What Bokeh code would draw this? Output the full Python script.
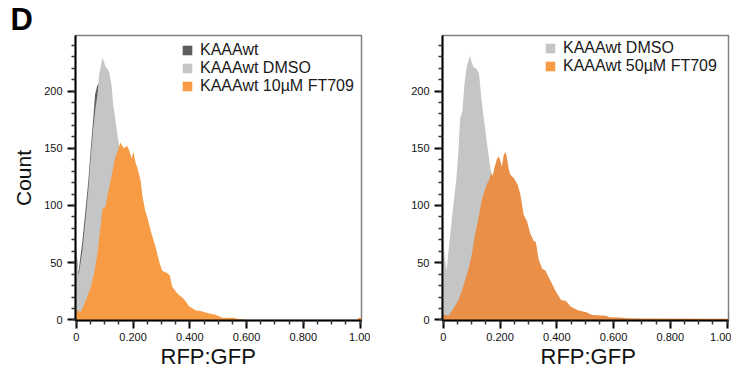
from bokeh.plotting import figure
from bokeh.layouts import row
from bokeh.models import Range1d, FixedTicker, Legend, LegendItem, Title
from bokeh.embed import file_html
from bokeh.resources import INLINE

# ---------------- data ----------------
x_ticks = [0, 0.2, 0.4, 0.6, 0.8, 1.0]
x_tick_labels = ["0", "0.200", "0.400", "0.600", "0.800", "1.00"]
x_minor_ticks = [0.0, 0.05, 0.1, 0.15, 0.2, 0.25, 0.3, 0.35, 0.4, 0.45, 0.5,
                 0.55, 0.6, 0.65, 0.7, 0.75, 0.8, 0.85, 0.9, 0.95, 1.0]
y_ticks = [0, 50, 100, 150, 200]
y_tick_labels = ["0", "50", "100", "150", "200"]
y_minor_ticks = [0, 10, 20, 30, 40, 50, 60, 70, 80, 90, 100, 110, 120, 130,
                 140, 150, 160, 170, 180, 190, 200, 210, 220, 230, 240]

# Left panel
kaaawt_x = [0, 0.007, 0.02, 0.033, 0.042, 0.05, 0.059, 0.066, 0.074, 0.085,
            0.1, 0.12, 0.14, 0.17, 0.2, 0.25, 0.3, 0.4, 0.5, 0.6]
kaaawt_y = [62, 41, 66, 98, 121, 147, 174, 197, 205, 208,
            200, 180, 150, 110, 80, 45, 22, 6, 1, 0]

dmso_l_x = [0, 0.008, 0.021, 0.033, 0.042, 0.05, 0.059, 0.067, 0.074, 0.08,
            0.092, 0.097, 0.103, 0.108, 0.115, 0.124, 0.13, 0.14, 0.15,
            0.17, 0.2, 0.25, 0.3, 0.35, 0.4, 0.5, 0.6]
dmso_l_y = [60, 39, 60, 90, 113, 140, 166, 185, 196, 214,
            229, 226, 221, 220, 217, 205, 188, 170, 153,
            128, 95, 55, 28, 14, 6, 1, 0]

ft10_x = [0, 0.015, 0.027, 0.039, 0.05, 0.062, 0.074, 0.086, 0.092, 0.103,
          0.109, 0.121, 0.137, 0.149, 0.155, 0.167, 0.179, 0.185, 0.195,
          0.201, 0.208, 0.215, 0.221, 0.227, 0.233, 0.243, 0.25, 0.262,
          0.28, 0.294, 0.303, 0.32, 0.329, 0.338, 0.356, 0.38, 0.397,
          0.42, 0.437, 0.456, 0.472, 0.491, 0.515, 0.555, 0.562, 0.597,
          0.99, 0.995, 1.005]
ft10_y = [9, 7, 13, 21, 28, 40, 57, 83, 97, 99,
          108, 122, 142, 150, 155, 150, 152, 149, 141,
          147, 138, 133, 127, 121, 108, 95, 90, 78,
          63, 49, 43, 41, 39, 29, 23, 18, 12,
          8.5, 7.7, 6.5, 5.4, 4.5, 2, 2, 1.3, 0,
          0, 2, 2]

# Right panel
dmso_r_x = [0, 0.005, 0.011, 0.025, 0.035, 0.046, 0.053, 0.059, 0.067, 0.074,
            0.082, 0.094, 0.1, 0.106, 0.118, 0.126, 0.133, 0.141, 0.153,
            0.165, 0.171, 0.19, 0.22, 0.25, 0.3, 0.35, 0.4, 0.5, 0.6]
dmso_r_y = [75, 55, 43, 76, 100, 124, 147, 176, 182, 205,
            221, 231, 225, 221, 219, 215, 196, 179, 156,
            133, 128, 105, 80, 58, 32, 16, 7, 2, 0]

ft50_x = [0, 0.018, 0.036, 0.053, 0.066, 0.077, 0.088, 0.1, 0.112, 0.124,
          0.136, 0.147, 0.156, 0.16, 0.168, 0.174, 0.18, 0.188, 0.194,
          0.2, 0.206, 0.213, 0.219, 0.224, 0.23, 0.236, 0.248, 0.262,
          0.272, 0.283, 0.295, 0.307, 0.319, 0.326, 0.336, 0.348, 0.36,
          0.378, 0.395, 0.415, 0.432, 0.45, 0.474, 0.504, 0.525, 0.575,
          0.585, 0.62, 0.65, 0.7, 1.005]
ft50_y = [5, 3.7, 10, 17.5, 26, 35, 44, 57, 75, 89,
          105, 114, 120, 121, 128, 126, 133, 140, 143,
          140, 134, 144, 147, 142, 132, 127, 124, 118,
          109, 92, 86, 75, 69, 68, 53, 45, 43,
          34, 25.5, 17.5, 16.5, 11.5, 8.5, 6.7, 4.3, 3.7,
          2.4, 2.2, 1.5, 1.2, 1]

labels_left = ["KAAAwt", "KAAAwt DMSO", "KAAAwt 10µM FT709"]
labels_right = ["KAAAwt DMSO", "KAAAwt 50µM FT709"]
panel_letter = "D"
x_label = "RFP:GFP"
y_label = "Count"

# ---------------- styling ----------------
FONT = "Liberation Sans"
DARK = "#5b5d5f"
GRAY = "#c4c5c5"
ORANGE = "#f79b45"
ORANGE2 = "#e98f47"


def make_panel(width, b_left, b_right, ylabel, xlabel_offset):
    p = figure(width=width, height=383,
               x_range=Range1d(-0.003, 1.005), y_range=Range1d(-0.5, 248.5),
               output_backend="svg", toolbar_location=None,
               min_border_left=b_left, min_border_right=b_right,
               min_border_top=34, min_border_bottom=63)
    p.xgrid.visible = False
    p.ygrid.visible = False
    p.outline_line_color = "#808080"
    p.outline_line_width = 1.5
    p.background_fill_color = "white"
    p.border_fill_color = "white"

    p.xaxis.ticker = FixedTicker(ticks=x_ticks, minor_ticks=x_minor_ticks)
    p.xaxis.major_label_overrides = {t: l for t, l in zip(x_ticks, x_tick_labels)}
    p.yaxis.ticker = FixedTicker(ticks=y_ticks, minor_ticks=y_minor_ticks)
    p.yaxis.major_label_overrides = {t: l for t, l in zip(y_ticks, y_tick_labels)}

    for ax in (p.xaxis[0], p.yaxis[0]):
        ax.axis_line_color = "black"
        ax.axis_line_width = 2
        ax.major_tick_line_color = "black"
        ax.major_tick_line_width = 2
        ax.major_tick_out = 8
        ax.major_tick_in = 0
        ax.minor_tick_line_color = "#333333"
        ax.minor_tick_line_width = 1.5
        ax.minor_tick_out = 4
        ax.minor_tick_in = 0
        ax.major_label_text_font = FONT
        ax.major_label_text_font_size = "11px"
        ax.major_label_text_color = "#111111"
        ax.axis_label_text_font = FONT
        ax.axis_label_text_font_size = "21px"
        ax.axis_label_text_font_style = "normal"
        ax.axis_label_text_color = "#111111"

    p.xaxis.major_label_standoff = 4
    p.yaxis.major_label_standoff = 5
    p.yaxis.axis_label_standoff = 6
    if ylabel:
        p.yaxis.axis_label = ylabel

    # x-axis title placed below the axis, left-aligned with a pixel offset
    xt = Title(text=x_label, align="left", offset=xlabel_offset,
               text_font=FONT, text_font_size="22px", text_font_style="normal",
               text_color="#111111", vertical_align="top", standoff=0)
    p.add_layout(xt, "below")
    return p


def style_legend(leg):
    leg.border_line_color = None
    leg.background_fill_alpha = 0
    leg.label_text_font = FONT
    leg.label_text_font_size = "16px"
    leg.label_text_color = "#1a1a1a"
    leg.glyph_width = 12
    leg.glyph_height = 12
    leg.label_height = 18
    leg.label_standoff = 7
    leg.spacing = 0
    leg.padding = 4
    leg.margin = 0


# Left panel
p1 = make_panel(370, 75, 9, y_label, 85)
r_k = p1.varea(x=kaaawt_x, y1=0, y2=kaaawt_y, fill_color=DARK)
r_d = p1.varea(x=dmso_l_x, y1=0, y2=dmso_l_y, fill_color=GRAY)
r_o = p1.varea(x=ft10_x, y1=0, y2=ft10_y, fill_color=ORANGE)
leg1 = Legend(items=[LegendItem(label=labels_left[0], renderers=[r_k]),
                     LegendItem(label=labels_left[1], renderers=[r_d]),
                     LegendItem(label=labels_left[2], renderers=[r_o])],
              location=(106, 225))
style_legend(leg1)
p1.add_layout(leg1)
p1.title.text = panel_letter
p1.title.align = "left"
p1.title.offset = -65
p1.title.text_font = FONT
p1.title.text_font_size = "31px"
p1.title.text_font_style = "bold"
p1.title.text_color = "black"
p1.title.text_baseline = "alphabetic"
p1.title.standoff = -2

# Right panel
p2 = make_panel(361, 72, 3, None, 98)
r_d2 = p2.varea(x=dmso_r_x, y1=0, y2=dmso_r_y, fill_color=GRAY)
r_o2 = p2.varea(x=ft50_x, y1=0, y2=ft50_y, fill_color=ORANGE2)
# legend swatch drawn in the lighter orange of the reference key (off-range)
r_leg = p2.varea(x=[2.0, 3.0], y1=[0, 0], y2=[1, 1], fill_color=ORANGE)
leg2 = Legend(items=[LegendItem(label=labels_right[0], renderers=[r_d2]),
                     LegendItem(label=labels_right[1], renderers=[r_leg])],
              location=(102, 245.5))
style_legend(leg2)
p2.add_layout(leg2)

layout = row(p1, p2)
open("out.html", "w").write(file_html(layout, INLINE))
